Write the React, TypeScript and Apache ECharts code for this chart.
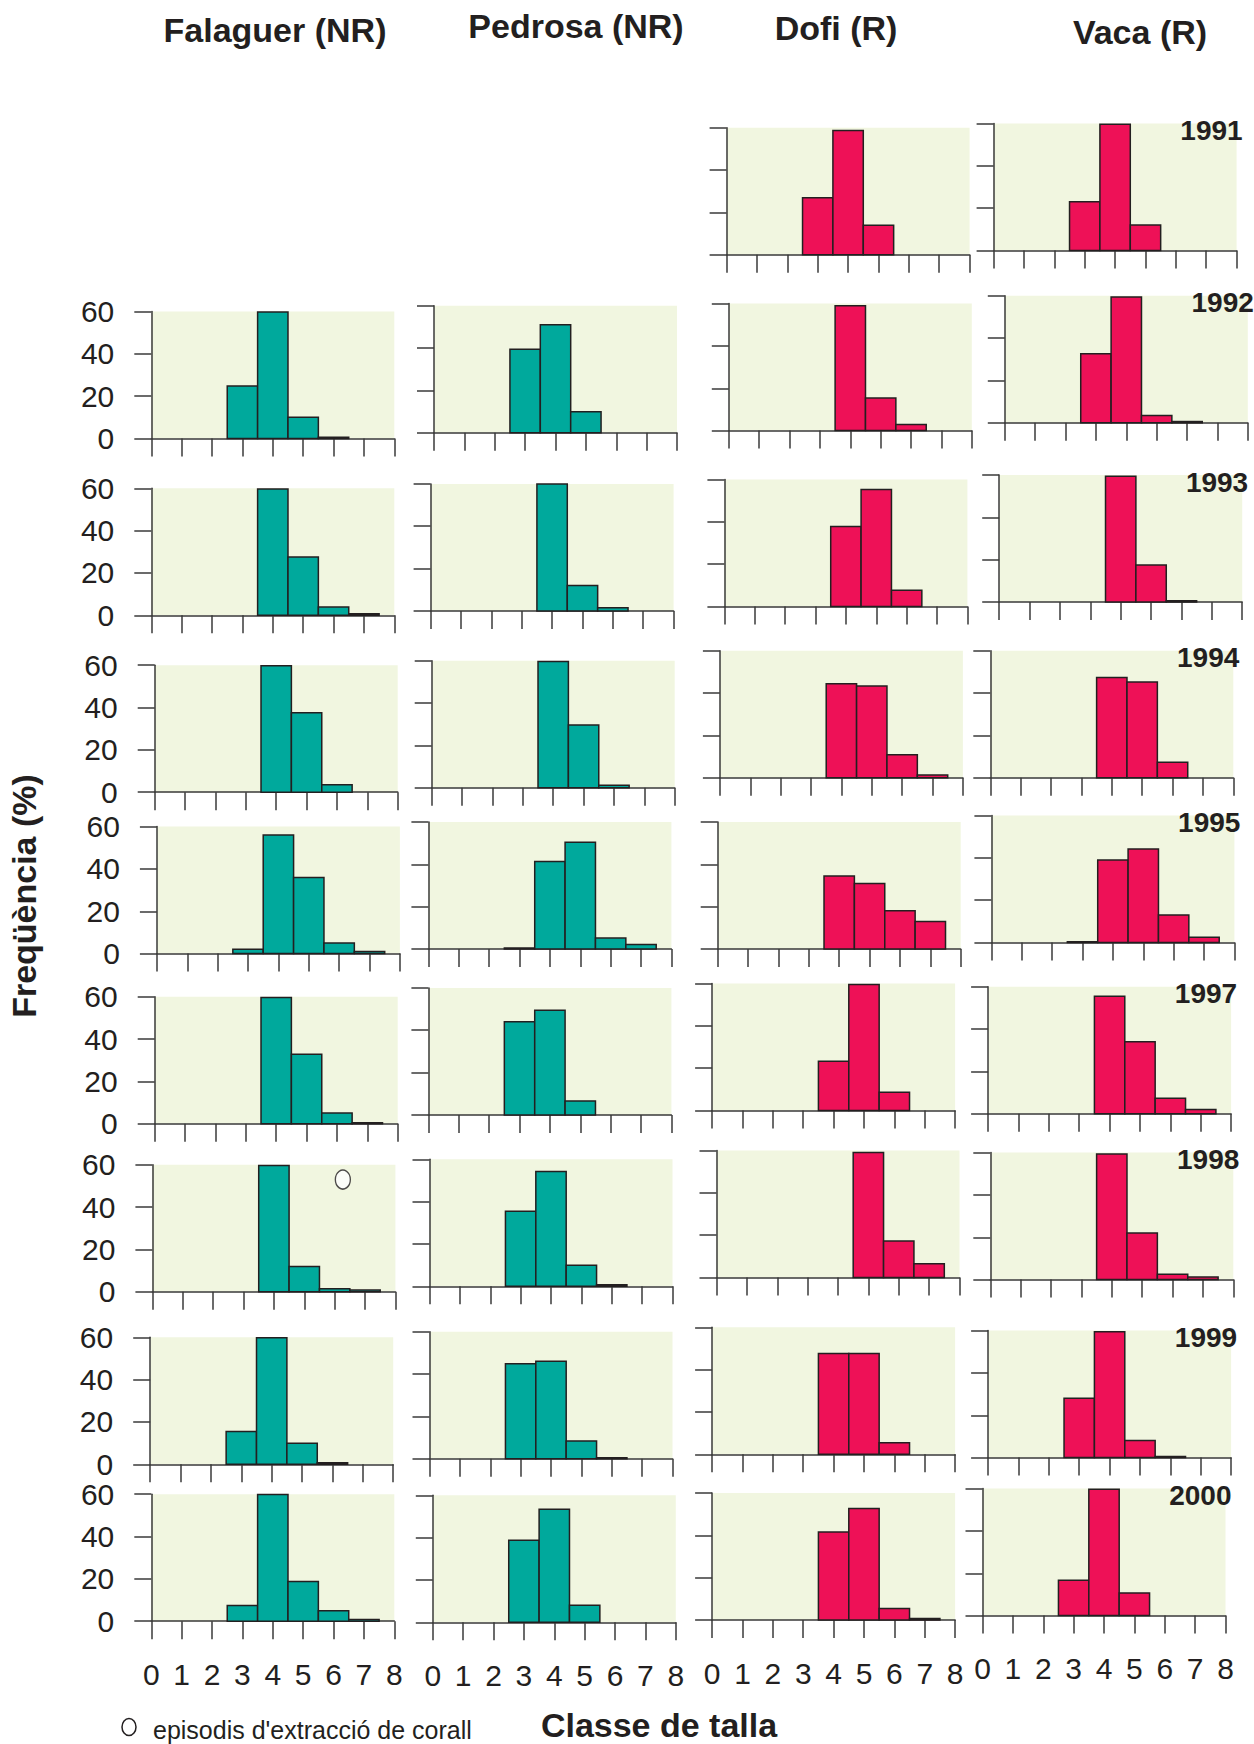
import { useEffect, useRef } from "react";
import * as echarts from "echarts";

// ---------- data ----------
const SITES = ["Falaguer (NR)", "Pedrosa (NR)", "Dofi (R)", "Vaca (R)"];
const YEARS = ["1991", "1992", "1993", "1994", "1995", "1997", "1998", "1999", "2000"];
const SIZE_CLASSES = [1, 2, 3, 4, 5, 6, 7];
const Y_TICKS = [0, 20, 40, 60];
const X_TICKS = [0, 1, 2, 3, 4, 5, 6, 7, 8];

// frequency (%) per size class 1..7, one row per year (null = no sample)
const falaguer: (number[] | null)[] = [
  null,
  [0, 0, 24.7, 59.7, 10, 0.6, 0],
  [0, 0, 0, 59.7, 27.6, 3.9, 0.7],
  [0, 0, 0, 59.7, 37.5, 3.5, 0],
  [0, 0, 2, 56, 36, 5, 1],
  [0, 0, 0, 59.7, 32.8, 5.1, 0.5],
  [0, 0, 0, 59.7, 12, 1.5, 0.8],
  [0, 0, 15.5, 59.8, 10, 0.7, 0],
  [0, 0, 7.4, 59.8, 18.8, 4.9, 0.8],
];
const pedrosa: (number[] | null)[] = [
  null,
  [0, 0, 39.5, 51, 10, 0, 0],
  [0, 0, 0, 60, 12, 1.5, 0],
  [0, 0, 0, 59.7, 29.7, 1.2, 0],
  [0, 0, 0.5, 41.4, 50.5, 5.2, 2.2],
  [0, 0, 44, 49.5, 6.6, 0, 0],
  [0, 0, 35.5, 54.2, 10, 0.7, 0],
  [0, 0, 44.8, 46, 8.4, 0.5, 0],
  [0, 0, 38.8, 53.4, 8, 0, 0],
];
const dofi: (number[] | null)[] = [
  [0, 0, 27, 58.7, 14, 0, 0],
  [0, 0, 0, 59, 15.4, 2.9, 0],
  [0, 0, 0, 37.7, 55.2, 7.6, 0],
  [0, 0, 0, 44.4, 43.4, 10.9, 1.3],
  [0, 0, 0, 34.5, 31, 18.1, 13],
  [0, 0, 0, 23.3, 59.5, 8.6, 0],
  [0, 0, 0, 0, 59, 17.2, 6.4],
  [0, 0, 0, 47.6, 47.6, 5.4, 0],
  [0, 0, 0, 41.6, 52.7, 5.5, 0.8],
];
const vaca: (number[] | null)[] = [
  [0, 0, 23, 59.6, 12, 0, 0],
  [0, 0, 32.6, 59.4, 3.4, 0.6, 0],
  [0, 0, 0, 59.4, 17.5, 0.6, 0],
  [0, 0, 0, 47.4, 45.3, 7.4, 0],
  [0, 0, 0.4, 39, 44.2, 13, 2.5],
  [0, 0, 0, 55.5, 34, 7.4, 2],
  [0, 0, 0, 59.3, 22, 2.5, 1.2],
  [0, 0, 28, 59.5, 8.1, 0.5, 0],
  [0, 0, 16.7, 59.7, 10.7, 0, 0],
];
const SITE_DATA = [falaguer, pedrosa, dofi, vaca];

// coral extraction episodes (marker position in panel data coords)
const extractionEpisodes = [{ site: 0, year: 6, x: 6.27, y: 53 }];

// ---------- layout (pixels) ----------
const PANEL_W = 243;
const PANEL_H = 127;
const PANEL_LEFT = [
  [0, 151.3, 151.3, 154.7, 156.9, 154.7, 152.4, 150.2, 151.3],
  [0, 434, 430.6, 431.7, 428.4, 428.4, 429.5, 429.5, 432.8],
  [726.6, 728.8, 724.4, 719.9, 717.7, 712.1, 716.5, 712.1, 712.1],
  [993.6, 1004.8, 999.2, 990.3, 991.4, 988.1, 990.3, 988.1, 982.5],
];
const PANEL_BASE = [
  [0, 438.4, 615.3, 792.2, 953.6, 1123.8, 1291.8, 1464.3, 1621.2],
  [0, 432.8, 610.9, 787.8, 949.1, 1114.9, 1286.3, 1458.7, 1622.3],
  [254.8, 430.6, 606.4, 777.8, 949.1, 1110.5, 1277.4, 1454.3, 1620.1],
  [250.4, 422.8, 602, 777.8, 942.5, 1113.8, 1279.6, 1457.6, 1615.6],
];
const TITLE_POS = [
  [275, 30],
  [576, 26],
  [836, 28],
  [1140, 32],
];

const COLORS = ["#00a99c", "#00a99c", "#ee1157", "#ee1157"];
const INK = "#231f20";
const AXIS = "#3a3a3a";
const BG = "#f1f6e0";
const FONT = "'Liberation Sans', Arial, Helvetica, sans-serif";

function buildOption() {
  const grid: any[] = [];
  const xAxis: any[] = [];
  const yAxis: any[] = [];
  const series: any[] = [];
  const graphic: any[] = [];
  const lastYear = YEARS.length - 1;

  SITES.forEach((site, s) => {
    YEARS.forEach((year, y) => {
      const vals = SITE_DATA[s][y];
      if (!vals) return;
      const idx = grid.length;
      const left = PANEL_LEFT[s][y];
      const base = PANEL_BASE[s][y];
      grid.push({
        left,
        top: base - PANEL_H,
        width: PANEL_W,
        height: PANEL_H,
        show: true,
        backgroundColor: BG,
        borderWidth: 0,
        containLabel: false,
      });
      xAxis.push({
        gridIndex: idx,
        type: "value",
        min: X_TICKS[0],
        max: X_TICKS[X_TICKS.length - 1],
        interval: 1,
        axisLine: { show: true, onZero: false, lineStyle: { color: AXIS, width: 1.5 } },
        axisTick: { show: true, inside: false, length: 18, lineStyle: { color: AXIS, width: 1.5 } },
        axisLabel: {
          show: y === lastYear,
          margin: 38,
          fontSize: 30,
          fontFamily: FONT,
          color: INK,
        },
        splitLine: { show: false },
      });
      yAxis.push({
        gridIndex: idx,
        type: "value",
        min: Y_TICKS[0],
        max: Y_TICKS[Y_TICKS.length - 1],
        interval: 20,
        axisLine: { show: true, onZero: false, lineStyle: { color: AXIS, width: 1.5 } },
        axisTick: { show: true, inside: false, length: 17, lineStyle: { color: AXIS, width: 1.5 } },
        axisLabel: {
          show: s === 0,
          margin: 37,
          fontSize: 30,
          fontFamily: FONT,
          color: INK,
        },
        splitLine: { show: false },
      });
      const color = COLORS[s];
      series.push({
        type: "custom",
        name: `${site} ${year}`,
        xAxisIndex: idx,
        yAxisIndex: idx,
        data: SIZE_CLASSES.map((c, i) => [c, vals[i]]).filter((d) => d[1] > 0),
        encode: { x: 0, y: 1 },
        renderItem: (_params: any, api: any) => {
          const cx = api.value(0);
          const v = api.value(1);
          const p0 = api.coord([cx - 0.5, v]);
          const p1 = api.coord([cx + 0.5, 0]);
          return {
            type: "rect",
            shape: { x: p0[0], y: p0[1], width: p1[0] - p0[0], height: p1[1] - p0[1] },
            style: { fill: color, stroke: INK, lineWidth: 1.5 },
          };
        },
      });
      extractionEpisodes
        .filter((e) => e.site === s && e.year === y)
        .forEach((e) => {
          series.push({
            type: "scatter",
            xAxisIndex: idx,
            yAxisIndex: idx,
            data: [[e.x, e.y]],
            symbol: "circle",
            symbolSize: [15, 19],
            itemStyle: { color: "#ffffff", borderColor: INK, borderWidth: 1.5 },
            z: 5,
          });
        });
      if (s === SITES.length - 1) {
        graphic.push({
          type: "text",
          x: left + PANEL_W + 6,
          y: base - PANEL_H + 7,
          style: {
            text: year,
            fontSize: 28,
            fontWeight: "bold",
            fontFamily: FONT,
            fill: INK,
            align: "right",
            verticalAlign: "middle",
          },
          z: 10,
        });
      }
    });
    graphic.push({
      type: "text",
      x: TITLE_POS[s][0],
      y: TITLE_POS[s][1],
      style: {
        text: site,
        fontSize: 34,
        fontWeight: "bold",
        fontFamily: FONT,
        fill: INK,
        align: "center",
        verticalAlign: "middle",
      },
    });
  });

  graphic.push({
    type: "text",
    x: 24,
    y: 896,
    rotation: Math.PI / 2,
    style: {
      text: "Freqüència (%)",
      fontSize: 34,
      fontWeight: "bold",
      fontFamily: FONT,
      fill: INK,
      align: "center",
      verticalAlign: "middle",
    },
  });
  graphic.push({
    type: "text",
    x: 659,
    y: 1725,
    style: {
      text: "Classe de talla",
      fontSize: 34,
      fontWeight: "bold",
      fontFamily: FONT,
      fill: INK,
      align: "center",
      verticalAlign: "middle",
    },
  });
  graphic.push({
    type: "ellipse",
    shape: { cx: 129, cy: 1727, rx: 7, ry: 8.5 },
    style: { fill: "#ffffff", stroke: INK, lineWidth: 1.5 },
  });
  graphic.push({
    type: "text",
    x: 153,
    y: 1730,
    style: {
      text: "episodis d'extracció de corall",
      fontSize: 25,
      fontFamily: FONT,
      fill: INK,
      align: "left",
      verticalAlign: "middle",
    },
  });

  return {
    animation: false,
    backgroundColor: "#ffffff",
    grid,
    xAxis,
    yAxis,
    series,
    graphic,
  };
}

export default function App() {
  const ref = useRef<HTMLDivElement>(null);
  useEffect(() => {
    if (!ref.current) return;
    const chart = echarts.init(ref.current, null, { renderer: "svg", width: 1254, height: 1744 });
    chart.setOption(buildOption() as any);
    return () => chart.dispose();
  }, []);
  return (
    <div
      ref={ref}
      style={{ position: "absolute", left: 0, top: 0, width: 1254, height: 1744 }}
    />
  );
}
